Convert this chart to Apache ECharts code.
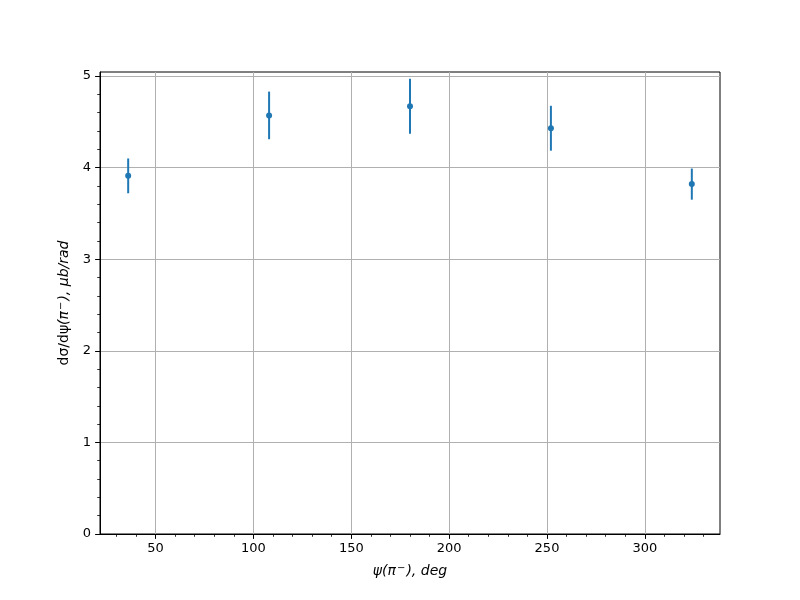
<!DOCTYPE html>
<html>
<head>
<meta charset="utf-8">
<script src="https://cdn.jsdelivr.net/npm/echarts@6/dist/echarts.min.js"></script>
<style>html,body{margin:0;padding:0;background:#fff;}#c{width:800px;height:600px;}</style>
</head>
<body>
<div id="c"></div>
<script>
const psiDeg = [36, 108, 180, 252, 324];
const dSigma = [3.91, 4.57, 4.67, 4.43, 3.82];
const errors = [0.19, 0.26, 0.30, 0.245, 0.17];
const xTicks = [50, 100, 150, 200, 250, 300];
const xMinorTicks = [30, 40, 60, 70, 80, 90, 110, 120, 130, 140, 160, 170, 180, 190, 210, 220, 230, 240, 260, 270, 280, 290, 310, 320, 330];
const yTicks = [0, 1, 2, 3, 4, 5];
const yMinorTicks = [0.2, 0.4, 0.6, 0.8, 1.2, 1.4, 1.6, 1.8, 2.2, 2.4, 2.6, 2.8, 3.2, 3.4, 3.6, 3.8, 4.2, 4.4, 4.6, 4.8];

const X_MIN = 21.6, X_MAX = 338.4, Y_MIN = 0, Y_MAX = 5.044;
const blue = '#1f77b4';
const font = 'DejaVu Sans';
const chart = echarts.init(document.getElementById('c'), null, {renderer: 'canvas'});

const errData = psiDeg.map((x, i) => [x, dSigma[i] - errors[i], dSigma[i] + errors[i]]);
const ptData = psiDeg.map((x, i) => [x, dSigma[i]]);

const nameRich = {
  n: {fontFamily: font, fontSize: 14, color: '#000'},
  it: {fontFamily: font, fontStyle: 'italic', fontSize: 14, color: '#000'},
  sup: {fontFamily: font, fontStyle: 'italic', fontSize: 10, color: '#000', verticalAlign: 'top', padding: [0, 1, 6, 1]}
};

function minorAxis(pos, min, max, vals) {
  return {
    type: 'value', min: min, max: max, position: pos, offset: 0,
    axisLine: {show: false},
    axisTick: {show: true, length: 2.8, lineStyle: {color: '#000', width: 0.8}, customValues: vals},
    axisLabel: {show: false, customValues: vals},
    splitLine: {show: false}
  };
}

chart.setOption({
  backgroundColor: '#fff',
  animation: false,
  grid: {left: 100, right: 80, top: 72, bottom: 66, show: true, borderColor: '#000', borderWidth: 1, backgroundColor: 'transparent'},
  xAxis: [{
    type: 'value', min: X_MIN, max: X_MAX, splitNumber: 5, position: 'bottom',
    name: '{it|ψ(π}{sup|−}{it|), deg}',
    nameLocation: 'middle', nameGap: 29,
    nameTextStyle: {rich: nameRich},
    axisLine: {show: true, lineStyle: {color: '#000', width: 1}},
    axisTick: {show: true, length: 4.9, lineStyle: {color: '#000', width: 1}, customValues: xTicks},
    axisLabel: {show: true, margin: 8, color: '#000', fontFamily: font, fontSize: 13, customValues: xTicks},
    splitLine: {show: true, lineStyle: {color: '#b0b0b0', width: 1}}
  }, minorAxis('bottom', X_MIN, X_MAX, xMinorTicks)],
  yAxis: [{
    type: 'value', min: Y_MIN, max: Y_MAX, splitNumber: 5, position: 'left',
    name: '{n|dσ/dψ}{it|(π}{sup|−}{it|), μb/rad}',
    nameLocation: 'middle', nameGap: 27,
    nameTextStyle: {rich: nameRich},
    axisLine: {show: true, lineStyle: {color: '#000', width: 1}},
    axisTick: {show: true, length: 4.9, lineStyle: {color: '#000', width: 1}, customValues: yTicks},
    axisLabel: {show: true, margin: 9, color: '#000', fontFamily: font, fontSize: 13, customValues: yTicks},
    splitLine: {show: true, lineStyle: {color: '#b0b0b0', width: 1}}
  }, minorAxis('left', Y_MIN, Y_MAX, yMinorTicks)],
  series: [
    {
      type: 'custom',
      xAxisIndex: 0, yAxisIndex: 0,
      data: errData,
      encode: {x: 0, y: [1, 2]},
      renderItem: function (params, api) {
        const x = api.value(0);
        const lo = api.coord([x, api.value(1)]);
        const hi = api.coord([x, api.value(2)]);
        return {
          type: 'line',
          shape: {x1: lo[0], y1: lo[1], x2: hi[0], y2: hi[1]},
          style: {stroke: blue, lineWidth: 2}
        };
      },
      z: 3
    },
    {
      type: 'scatter',
      xAxisIndex: 0, yAxisIndex: 0,
      data: ptData,
      symbol: 'circle',
      symbolSize: 6,
      itemStyle: {color: blue, opacity: 1},
      z: 4
    }
  ]
});
</script>
</body>
</html>
